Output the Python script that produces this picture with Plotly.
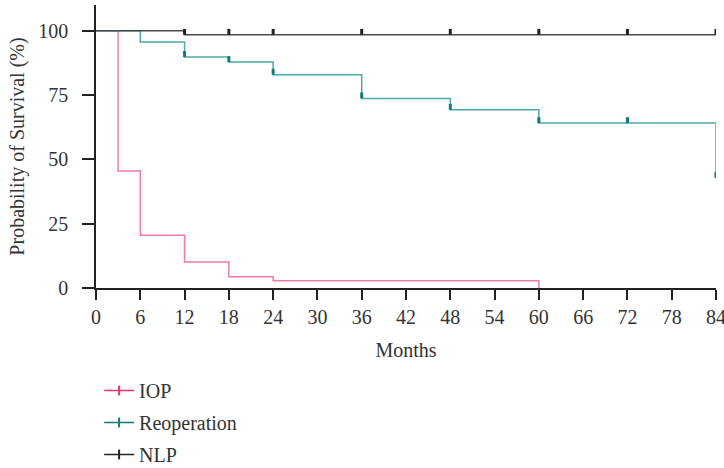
import plotly.graph_objects as go

# ---- data ----
months_ticks = [0, 6, 12, 18, 24, 30, 36, 42, 48, 54, 60, 66, 72, 78, 84]
surv_ticks = [0, 25, 50, 75, 100]

iop_t = [0, 3, 6, 12, 18, 24, 60]
iop_s = [100, 45.5, 20.5, 10.1, 4.4, 2.8, 0]

reop_t = [0, 6, 12, 18, 24, 36, 48, 60, 84]
reop_s = [100, 95.6, 89.8, 87.8, 82.9, 73.7, 69.3, 64.1, 43.7]
reop_cens_t = [12, 18, 24, 36, 48, 60, 72, 84]
reop_cens_s = [89.8, 87.8, 82.9, 73.7, 69.3, 64.1, 64.1, 42.8]

nlp_t = [0, 12, 84]
nlp_s = [100, 98.4, 98.4]
nlp_cens_t = [12, 18, 24, 36, 48, 60, 72, 84]
nlp_cens_s = [98.4] * 8

names = ["IOP", "Reoperation", "NLP"]
line_colors = ["#f07aa8", "#4ea8a6", "#4a4a4a"]
mark_colors = ["#e8336f", "#137878", "#222222"]

FONT = "Liberation Serif"

fig = go.Figure()

series = [
    (iop_t, iop_s, None, None),
    (reop_t, reop_s, reop_cens_t, reop_cens_s),
    (nlp_t, nlp_s, nlp_cens_t, nlp_cens_s),
]

for i, (t, s, ct, cs) in enumerate(series):
    fig.add_trace(go.Scatter(
        x=t, y=s, mode="lines", line=dict(color=line_colors[i], width=1.5, shape="hv"),
        showlegend=False, hoverinfo="skip", cliponaxis=False))
    if ct is not None:
        fig.add_trace(go.Scatter(
            x=ct, y=cs, mode="markers",
            marker=dict(size=1, color="rgba(0,0,0,0)"),
            error_y=dict(type="data", symmetric=False, array=[2.3] * len(ct),
                         arrayminus=[0] * len(ct), width=0, thickness=3,
                         color=mark_colors[i]),
            showlegend=False, hoverinfo="skip", cliponaxis=False))

# legend entries
for i, n in enumerate(names):
    fig.add_trace(go.Scatter(
        x=[None], y=[None], mode="lines+markers", name=n, legendgroup=n,
        line=dict(color=mark_colors[i], width=1.5),
        marker=dict(symbol="line-ns", size=7, line=dict(width=2, color=mark_colors[i]),
                    color=mark_colors[i])))

fig.update_layout(
    width=724, height=468,
    margin=dict(l=96, r=8, t=5, b=180, autoexpand=False),
    plot_bgcolor="white", paper_bgcolor="white",
    font=dict(family=FONT, size=20, color="#333333"),
    showlegend=True,
    legend=dict(x=0.005, y=1 - 371 / 468, xanchor="left", yanchor="top", yref="container",
                font=dict(family=FONT, size=20, color="#333333"),
                tracegroupgap=3, itemwidth=30, bgcolor="rgba(0,0,0,0)"),
    xaxis=dict(range=[0, 84], tickvals=months_ticks, ticktext=[str(v) for v in months_ticks],
               showline=True, linecolor="#222222", linewidth=1.5, automargin=False,
               ticks="outside", ticklen=10, tickwidth=1.5, tickcolor="#222222",
               ticklabelstandoff=0, ticklabeloverflow="allow",
               showgrid=False, zeroline=False,
               title=dict(text="Months", standoff=16, font=dict(size=20))),
    yaxis=dict(range=[0, 110], tickvals=surv_ticks, ticktext=[str(v) for v in surv_ticks],
               showline=True, linecolor="#222222", linewidth=1.5, automargin=False,
               ticks="outside", ticklen=12, tickwidth=1.5, tickcolor="#222222",
               ticklabelstandoff=10,
               showgrid=False, zeroline=False,
               title=dict(text="Probability of Survival (%)", standoff=8, font=dict(size=20))),
)

fig.write_html("out.html", config={"displayModeBar": False},
               post_script="document.body.style.margin='0';")
